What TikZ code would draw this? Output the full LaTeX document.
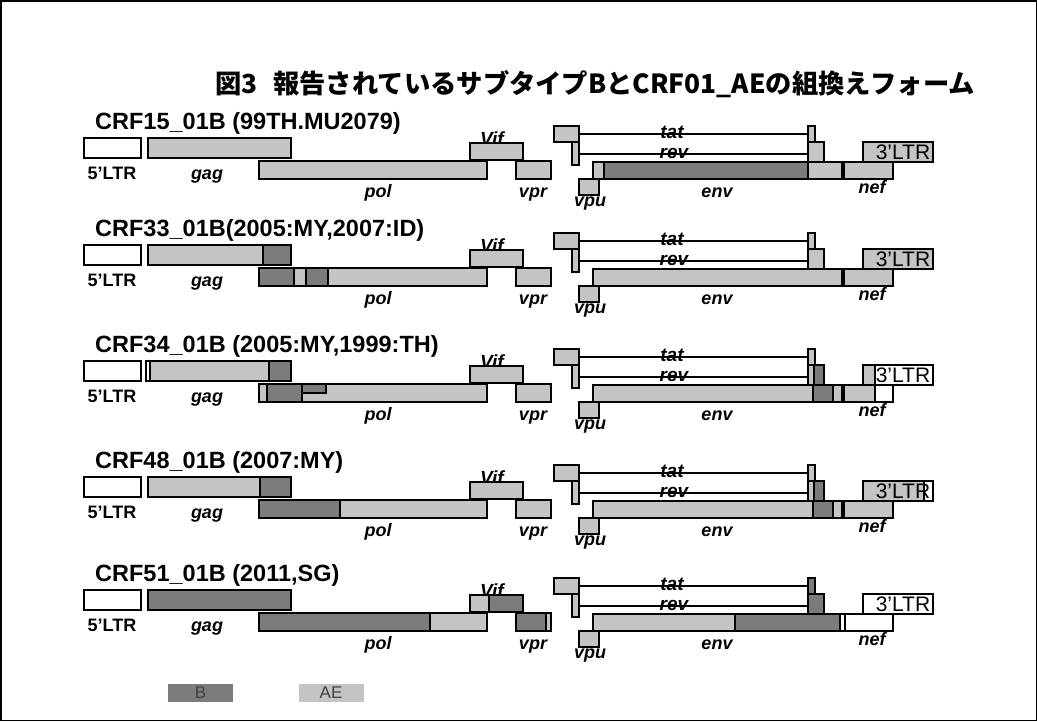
\documentclass[tikz,border=0pt]{standalone}
\usepackage{fontspec}
\setmainfont{Liberation Sans}
\newfontfamily\jpfont{Noto Sans CJK JP}
\usetikzlibrary{positioning}
\definecolor{crfLightGray}{RGB}{196,196,196}
\definecolor{crfDarkGray}{RGB}{124,124,124}
\colorlet{aegray}{crfLightGray}
\colorlet{bgray}{crfDarkGray}

% one gene box: name, x1, y1, x2, y2, fill
\newcommand{\gbox}[6]{%
  \node[gene,fill=#6,minimum width={(#4)-(#2)},minimum height={(#5)-(#3)}] (#1) at ({((#2)+(#4))/2},{((#3)+(#5))/2}) {};}

% one genome row: prefix, top, name, recombinant segments
\newcommand{\crfrow}[4]{%
\begin{scope}[shift={(0,#2)}]
  \node[rowname] (#1name) at (95,-9) {#3};
  \node[genelabel] (#1ltrlbl) at (112,41) {5'LTR};
  \node[genename] (#1gaglbl) at (207,41) {gag};
  \node[genename] (#1pollbl) at (378,59) {pol};
  \node[genename] (#1vprlbl) at (533,59) {vpr};
  \node[genename,font=\fontsize{19}{19}\selectfont\bfseries\itshape] (#1viflbl) at (492,7) {Vif};
  \node[genename,font=\fontsize{19}{19}\selectfont\bfseries\itshape] (#1tatlbl) at (672,0) {tat};
  \node[genename,font=\fontsize{19}{19}\selectfont\bfseries\itshape] (#1revlbl) at (674,20.5) {rev};
  \node[genename] (#1vpulbl) at (590,68) {vpu};
  \node[genename] (#1envlbl) at (717,59) {env};
  \node[genename] (#1neflbl) at (872,55) {nef};
  \gbox{#1ltrA}{84}{0}{141}{20}{white}
  \gbox{#1gag}{148}{0}{291}{20}{aegray}
  \gbox{#1pol}{259}{23}{487}{41}{aegray}
  \gbox{#1vif}{470}{5}{523}{22}{aegray}
  \gbox{#1vpr}{516}{23}{551}{41}{aegray}
  \gbox{#1tatA}{554}{-12}{579}{4}{aegray}
  \gbox{#1tatB}{808}{-12}{815}{4}{aegray}
  \gbox{#1revA}{572}{4}{579}{27}{aegray}
  \gbox{#1revB}{808}{4}{824}{24}{aegray}
  \gbox{#1env}{593}{24}{842}{41}{aegray}
  \gbox{#1nef}{844}{24}{893}{41}{aegray}
  \gbox{#1vpu}{579}{41}{599}{57}{aegray}
  \gbox{#1ltrB}{863}{4}{933}{24}{aegray}
  \draw[splice] (#1tatA.east) -- (#1tatA.east -| #1tatB.west);
  \draw[splice] (#1revA.east) -- (#1revA.east -| #1revB.west);
  #4
  \node[ltrname] (#1ltrlblB) at (903,14) {3'LTR};
\end{scope}}

\begin{document}
\begin{tikzpicture}[x=1pt,y=-1pt,
  gene/.style={draw,line width=1.5pt,inner sep=0pt,outer sep=0pt},
  splice/.style={line width=2pt},
  rowname/.style={anchor=base west,inner sep=0pt,font=\fontsize{23.5}{24}\selectfont\bfseries},
  genelabel/.style={anchor=base,inner sep=0pt,font=\fontsize{18}{18}\selectfont\bfseries},
  genename/.style={genelabel,font=\fontsize{18}{18}\selectfont\bfseries\itshape},
  ltrname/.style={inner sep=0pt,font=\fontsize{21}{21}\selectfont},
  keybox/.style={minimum width=65pt,minimum height=18pt,inner sep=0pt,text=black!75,font=\fontsize{17}{17}\selectfont}]
\useasboundingbox (0,0) rectangle (1037,721);
\draw[line width=1.5pt] (0.75,0.75) rectangle (1036.25,720.25);
\node[font=\jpfont\bfseries\fontsize{26.3}{27}\selectfont,inner sep=0pt] (title) at (595,84) {図3\hspace{16pt}報告されているサブタイプBとCRF01\_AEの組換えフォーム};

\crfrow{rA}{138}{CRF15\_01B (99TH.MU2079)}{%
  \gbox{rAenvB}{604}{24}{808}{41}{bgray}}
\crfrow{rB}{245}{CRF33\_01B(2005:MY,2007:ID)}{%
  \gbox{rBgagB}{263}{0}{291}{20}{bgray}
  \gbox{rBpolB}{259}{23}{294}{41}{bgray}
  \gbox{rBpolC}{306}{23}{328}{41}{bgray}}
\crfrow{rC}{361}{CRF34\_01B (2005:MY,1999:TH)}{%
  \gbox{rCgagW}{146}{0}{150}{20}{white}
  \gbox{rCgagB}{269}{0}{291}{20}{bgray}
  \gbox{rCpolB}{267}{23}{302}{41}{bgray}
  \gbox{rCpolC}{302}{23}{326}{32}{bgray}
  \gbox{rCrevC}{814}{4}{824}{24}{bgray}
  \gbox{rCenvB}{813}{24}{833}{41}{bgray}
  \gbox{rCnefW}{875}{24}{893}{41}{white}
  \gbox{rCltrW}{875}{4}{933}{24}{white}}
\crfrow{rD}{477}{CRF48\_01B (2007:MY)}{%
  \gbox{rDgagB}{260}{0}{291}{20}{bgray}
  \gbox{rDpolB}{259}{23}{340}{41}{bgray}
  \gbox{rDrevC}{814}{4}{824}{24}{bgray}
  \gbox{rDenvB}{813}{24}{833}{41}{bgray}
  \gbox{rDltrW}{924}{4}{933}{24}{white}}
\crfrow{rE}{590}{CRF51\_01B (2011,SG)}{%
  \gbox{rEgagB}{148}{0}{291}{20}{bgray}
  \gbox{rEpolB}{259}{23}{430}{41}{bgray}
  \gbox{rEvifB}{489}{5}{523}{22}{bgray}
  \gbox{rEvprB}{516}{23}{546}{41}{bgray}
  \gbox{rEtatC}{808}{-12}{815}{4}{bgray}
  \gbox{rErevC}{808}{4}{824}{24}{bgray}
  \gbox{rEenvB}{735}{24}{840}{41}{bgray}
  \gbox{rEenvW}{840}{24}{845}{41}{white}
  \gbox{rEnefW}{845}{24}{893}{41}{white}
  \gbox{rEltrW}{863}{4}{933}{24}{white}}

\node[keybox,fill=bgray] (keyB) at (200.5,693) {B};
\node[keybox,fill=aegray] (keyAE) at (331,693) {AE};
\end{tikzpicture}
\end{document}
